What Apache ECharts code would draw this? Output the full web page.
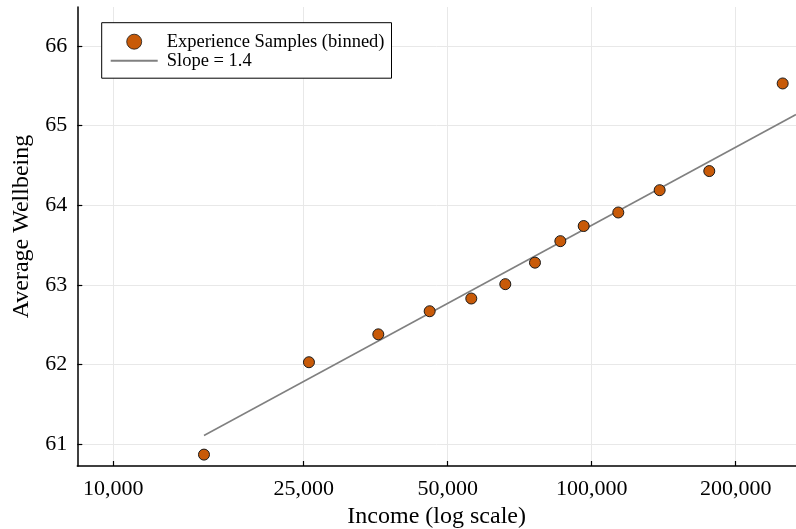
<!DOCTYPE html>
<html>
<head>
<meta charset="utf-8">
<script src="https://cdn.jsdelivr.net/npm/echarts@6/dist/echarts.min.js"></script>
<style>
  html, body { margin: 0; padding: 0; background: #fff; }
  #chart { width: 796px; height: 529px; }
</style>
</head>
<body>
<div id="chart"></div>
<script>
// Binned experience-sampling data: mean income of each bin and its average wellbeing
const incomeBins = [15470, 25640, 35800, 45840, 56010, 65970, 76100, 85980, 96210, 113640, 138680, 176080, 250700];
const avgWellbeing = [60.87, 62.03, 62.38, 62.67, 62.83, 63.01, 63.28, 63.55, 63.74, 63.91, 64.19, 64.43, 65.53];

// Fitted log-linear trend (end points)
const fitIncome = [15470, 267300];
const fitWellbeing = [61.11, 65.14];

// Axis ticks
const incomeTicks = [10000, 25000, 50000, 100000, 200000];
const wellbeingTicks = [61, 62, 63, 64, 65, 66];

const serif = 'Liberation Serif, Times New Roman, serif';

const chart = echarts.init(document.getElementById('chart'), null, { renderer: 'canvas' });

chart.setOption({
  backgroundColor: '#ffffff',
  animation: false,
  grid: {
    left: 77.3, right: 0, top: 7, bottom: 63,
    containLabel: false,
    outerBoundsMode: 'none'
  },
  legend: {
    orient: 'vertical',
    left: 101.7,
    top: 22.7,
    padding: [9.5, 7, 8, 8],
    itemGap: 0,
    itemWidth: 47,
    itemHeight: 15,
    selectedMode: false,
    backgroundColor: '#ffffff',
    borderColor: '#000000',
    borderWidth: 1,
    borderRadius: 0,
    textStyle: {
      fontFamily: serif,
      fontSize: 18.5,
      color: '#000000',
      lineHeight: 17,
      padding: [0, 0, 0, 4]
    },
    data: [
      { name: 'Experience Samples (binned)', itemStyle: { borderWidth: 0.8 } },
      // trend entry: plain line, no marker
      { name: 'Slope = 1.4', itemStyle: { color: 'rgba(0,0,0,0)', borderColor: 'rgba(0,0,0,0)', borderWidth: 0, opacity: 0 } }
    ]
  },
  xAxis: {
    type: 'log',
    logBase: 10,
    min: 8408,
    max: 267300,
    name: 'Income (log scale)',
    nameLocation: 'middle',
    nameGap: 31,
    nameTextStyle: { fontFamily: serif, fontSize: 24, color: '#000000' },
    axisLine: { show: true, onZero: false, lineStyle: { color: '#000000', width: 1.5 } },
    axisTick: { show: true, inside: true, length: 5, customValues: incomeTicks, lineStyle: { color: '#000000', width: 1.2 } },
    axisLabel: {
      customValues: incomeTicks,
      fontFamily: serif, fontSize: 22, color: '#000000', margin: 12,
      formatter: v => Math.round(v).toLocaleString('en-US')
    },
    splitLine: { show: true, lineStyle: { color: '#e8e8e8', width: 1 } },
    minorTick: { show: false },
    minorSplitLine: { show: false }
  },
  yAxis: {
    type: 'value',
    min: 60.727,
    max: 66.49,
    name: 'Average Wellbeing',
    nameLocation: 'middle',
    nameGap: 44,
    nameTextStyle: { fontFamily: serif, fontSize: 24, color: '#000000', padding: [0, 0, 0, 20] },
    axisLine: { show: true, onZero: false, lineStyle: { color: '#000000', width: 1.5 } },
    axisTick: { show: true, inside: true, length: 5, customValues: wellbeingTicks, lineStyle: { color: '#000000', width: 1.2 } },
    axisLabel: {
      customValues: wellbeingTicks,
      fontFamily: serif, fontSize: 22, color: '#000000', margin: 10
    },
    splitLine: { show: true, lineStyle: { color: '#e8e8e8', width: 1 } }
  },
  series: [
    {
      name: 'Slope = 1.4',
      type: 'line',
      data: fitIncome.map((x, i) => [x, fitWellbeing[i]]),
      symbol: 'none',
      showSymbol: false,
      lineStyle: { color: '#808080', width: 1.5 },
      itemStyle: { color: '#808080' },
      z: 2,
      silent: true
    },
    {
      name: 'Experience Samples (binned)',
      type: 'scatter',
      data: incomeBins.map((x, i) => [x, avgWellbeing[i]]),
      symbol: 'circle',
      symbolSize: 11,
      itemStyle: { color: '#c85a08', borderColor: '#1a1a1a', borderWidth: 1, opacity: 1 },
      z: 3,
      silent: true
    }
  ]
});
</script>
</body>
</html>
